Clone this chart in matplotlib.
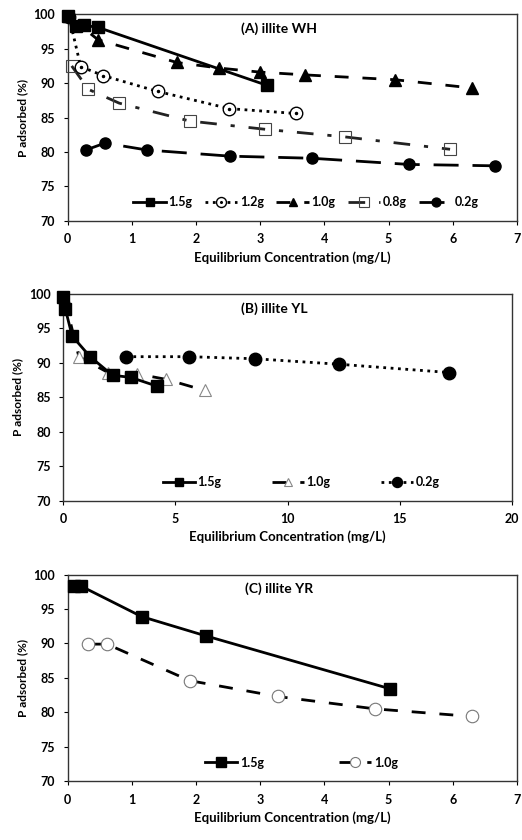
import matplotlib.pyplot as plt

plt.rcParams['font.family'] = ['Lato', 'DejaVu Sans']
plt.rcParams['font.weight'] = 'bold'

# Panel A: illite WH
a_x15 = [0.0, 0.13, 0.25, 0.47, 3.1]
a_y15 = [99.8, 98.3, 98.4, 98.1, 89.7]
a_x12 = [0.02, 0.2, 0.55, 1.4, 2.52, 3.55]
a_y12 = [99.6, 92.4, 91.1, 88.8, 86.3, 85.6]
a_x10 = [0.02, 0.47, 1.7, 2.35, 3.0, 3.7, 5.1, 6.3]
a_y10 = [99.7, 96.3, 93.0, 92.2, 91.6, 91.2, 90.5, 89.3]
a_x08 = [0.06, 0.32, 0.8, 1.9, 3.08, 4.32, 5.96]
a_y08 = [92.5, 89.1, 87.1, 84.5, 83.3, 82.2, 80.4]
a_x02 = [0.28, 0.58, 1.23, 2.53, 3.8, 5.32, 6.66]
a_y02 = [80.3, 81.3, 80.3, 79.4, 79.1, 78.2, 78.0]

# Panel B: illite YL
b_x15 = [0.0, 0.1, 0.4, 1.2, 2.2, 3.0, 4.2]
b_y15 = [99.6, 97.8, 93.9, 90.9, 88.2, 87.9, 86.6]
b_x10 = [0.05, 0.7, 2.0, 3.3, 4.6, 6.3]
b_y10 = [99.5, 90.9, 88.6, 88.4, 87.6, 86.0]
b_x02 = [2.8, 5.6, 8.55, 12.3, 17.2]
b_y02 = [90.9, 90.9, 90.6, 89.8, 88.6]

# Panel C: illite YR
c_x15 = [0.09, 0.21, 1.15, 2.15, 5.03]
c_y15 = [98.3, 98.3, 93.9, 91.1, 83.4]
c_x10 = [0.32, 0.61, 1.9, 3.27, 4.79, 6.3]
c_y10 = [89.9, 89.9, 84.6, 82.3, 80.5, 79.4]

yticks = [70, 75, 80, 85, 90, 95, 100]

fig = plt.figure(figsize=(5.22, 8.4), dpi=100)
axA = fig.add_axes([0.130, 0.737, 0.860, 0.246])
axB = fig.add_axes([0.121, 0.404, 0.860, 0.246])
axC = fig.add_axes([0.130, 0.070, 0.860, 0.246])


def style(ax, xmax, xstep, title):
    ax.set_xlim(0, xmax)
    ax.set_ylim(70, 100)
    ax.set_yticks(yticks)
    ax.set_xticks(range(0, xmax + 1, xstep))
    ax.tick_params(direction='out', length=3, width=0.8, labelsize=9, pad=6)
    for s in ax.spines.values():
        s.set_linewidth(1.0)
        s.set_color('#333333')
    ax.set_xlabel('Equilibrium Concentration (mg/L)', fontsize=9.5, fontweight='bold', labelpad=4)
    ax.set_ylabel('P adsorbed (%)', fontsize=8.5, fontweight='bold', labelpad=4)
    ax.text(0.47, 0.93, title, transform=ax.transAxes, ha='center', va='center',
            fontsize=10, fontweight='bold')
    for ln in ax.get_lines():
        ln.set_clip_on(False)


leg_kw = dict(loc='center', frameon=False, fontsize=9, handlelength=2.6,
              handletextpad=0.2, markerscale=0.8)

# --- A ---
h1, = axA.plot(a_x15, a_y15, '-', color='black', lw=2, marker='s', ms=8, mfc='black', mec='black', zorder=6)
h2, = axA.plot(a_x12, a_y12, ':', color='black', lw=2, marker='o', ms=9, mfc='white', mec='black', mew=1, zorder=4)
h2b, = axA.plot(a_x12, a_y12, ' ', marker='.', ms=3, color='black', zorder=4)
h3, = axA.plot(a_x10, a_y10, '--', color='black', lw=2, dashes=(5, 5), marker='^', ms=8,
               mfc='black', mec='black', zorder=5)
h4, = axA.plot(a_x08, a_y08, '-.', color='#222222', lw=2, dashes=(6, 5, 1.5, 5), marker='s', ms=9,
               mfc='none', mec='#444444', mew=0.8, zorder=3)
h5, = axA.plot(a_x02, a_y02, '--', color='black', lw=2, dashes=(9, 5), marker='o', ms=8,
               mfc='black', mec='black', zorder=3)
axA.legend([h1, (h2, h2b), h3, h4, h5], ['1.5g', '1.2g', '1.0g', '0.8g', '0.2g'],
           bbox_to_anchor=(0.53, 0.09), ncol=5, columnspacing=1.0, **leg_kw)
style(axA, 7, 1, '(A) illite WH')

# --- B ---
g2, = axB.plot(b_x10, b_y10, '--', color='black', lw=2, dashes=(5, 5), marker='^', ms=8,
               mfc='white', mec='#888888', mew=0.8, zorder=3)
g1, = axB.plot(b_x15, b_y15, '-', color='black', lw=2, marker='s', ms=8, mfc='black', mec='black', zorder=5)
g3, = axB.plot(b_x02, b_y02, ':', color='black', lw=2, marker='o', ms=9, mfc='black', mec='black', zorder=4)
axB.legend([g1, g2, g3], ['1.5g', '1.0g', '0.2g'],
           bbox_to_anchor=(0.53, 0.09), ncol=3, columnspacing=4.0, **leg_kw)
style(axB, 20, 5, '(B) illite YL')

# --- C ---
k1, = axC.plot(c_x15, c_y15, '-', color='black', lw=2, marker='s', ms=9, mfc='black', mec='black', zorder=5)
k2, = axC.plot(c_x10, c_y10, '--', color='black', lw=2, dashes=(5, 5), marker='o', ms=9,
               mfc='white', mec='#777777', mew=0.8, zorder=4)
axC.legend([k1, k2], ['1.5g', '1.0g'],
           bbox_to_anchor=(0.52, 0.09), ncol=2, columnspacing=6.0, **leg_kw)
style(axC, 7, 1, '(C) illite YR')

fig.savefig('out.png', dpi=100)
